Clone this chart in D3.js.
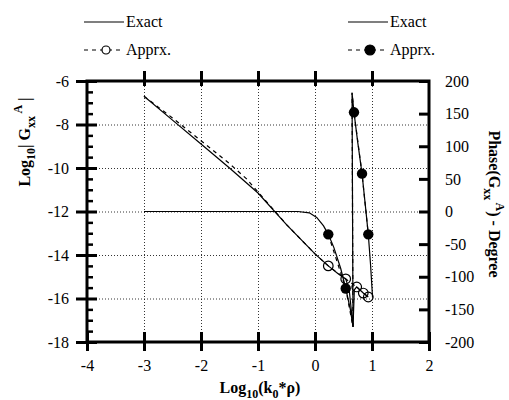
<!DOCTYPE html>
<html>
<head>
<meta charset="utf-8">
<script src="https://cdn.jsdelivr.net/npm/d3@7"></script>
<style>
  body { margin: 0; background: #fff; }
  svg { display: block; font-family: "Liberation Serif", "DejaVu Serif", serif; }
  .frame { fill: none; stroke: #000; stroke-width: 3; }
  .grid line { stroke: #000; stroke-width: 0.8; stroke-dasharray: 1,2; }
  .ax line { stroke: #000; stroke-width: 3; }
  .minor line { stroke: #000; stroke-width: 2.5; }
  .ax text { font-size: 16px; fill: #000; font-family: "Liberation Serif", serif; }
  .curve { fill: none; stroke: #000; stroke-width: 1.2; }
  .dash { fill: none; stroke: #000; stroke-width: 1.2; stroke-dasharray: 4,4; }
  .lbl { font-size: 16px; font-weight: bold; font-family: "Liberation Serif", serif; }
  .leg { font-size: 16px; font-family: "Liberation Serif", serif; }
</style>
</head>
<body>
<svg id="chart"></svg>
<script>
// x ticks and y ticks
const xTicks = [-4, -3, -2, -1, 0, 1, 2];
const magTicks = [-18, -16, -14, -12, -10, -8, -6];
const phaseTicks = [-200, -150, -100, -50, 0, 50, 100, 150, 200];

// magnitude, exact
const magExactX = [-3, -2.5, -2, -1.5, -1, -0.5, 0, 0.233, 0.4, 0.539, 0.6, 0.667, 0.69, 0.732, 0.847, 0.935];
const magExactY = [-6.7, -7.8, -8.9, -10.0, -11.15, -12.6, -13.95, -14.5, -14.85, -15.1, -15.6, -17.3, -15.6, -15.47, -15.75, -15.93];
// magnitude, approx (dashed + open circles)
const magApproxX = [-3, -2.5, -2, -1.5, -1.2, -1, -0.5, 0, 0.233, 0.539, 0.732, 0.847, 0.935];
const magApproxY = [-6.7, -7.7, -8.75, -9.8, -10.5, -11.1, -12.6, -13.95, -14.5, -15.1, -15.47, -15.75, -15.93];
const magMarkX = [0.233, 0.539, 0.732, 0.847, 0.935];
const magMarkY = [-14.5, -15.1, -15.47, -15.75, -15.93];

// phase, exact (includes the -180 / +180 wrap)
const phExactX = [-3, -1, -0.3, -0.1, 0.03, 0.15, 0.233, 0.33, 0.45, 0.539, 0.62, 0.667, 0.65, 0.684, 0.75, 0.825, 0.88, 0.935, 0.975, 1.01];
const phExactY = [0, 0, 0, -2, -9, -22, -35, -55, -87, -118, -150, -177, 182, 152, 106, 58, 12, -35, -82, -132];
// phase, approx (dashed + filled dots)
const phApproxX = [0.233, 0.539, 0.667, 0.65, 0.684, 0.825, 0.935];
const phApproxY = [-35, -118, -177, 182, 152, 58, -35];
const phMarkX = [0.233, 0.539, 0.684, 0.825, 0.935];
const phMarkY = [-35, -118, 152, 58, -35];

const width = 509, height = 400;
const svg = d3.select("#chart").attr("width", width).attr("height", height);

const L = 87, R = 429, T = 81, B = 342;
const x = d3.scaleLinear().domain([-4, 2]).range([L, R]);
const yMag = d3.scaleLinear().domain([-18, -6]).range([B, T]);
const yPh = d3.scaleLinear().domain([-200, 200]).range([B, T]);
const fmt = d => String(d);

// grid
svg.append("g").attr("class", "grid")
    .attr("transform", `translate(0,${B})`)
    .call(d3.axisBottom(x).tickValues([-3, -2, -1, 0, 1]).tickSize(-(B - T)).tickFormat(""))
    .call(g => g.select(".domain").remove());
svg.append("g").attr("class", "grid")
    .attr("transform", `translate(${L},0)`)
    .call(d3.axisLeft(yMag).tickValues([-16, -14, -12, -10, -8]).tickSize(-(R - L)).tickFormat(""))
    .call(g => g.select(".domain").remove());

// curves
const line = d3.line().x(d => x(d[0])).y(d => d[1]);
const pts = (xs, ys, sc) => xs.map((v, i) => [v, sc(ys[i])]);

svg.append("path").attr("class", "curve").attr("d", line(pts(magExactX, magExactY, yMag)));
svg.append("path").attr("class", "dash").attr("d", line(pts(magApproxX, magApproxY, yMag)));
svg.append("path").attr("class", "curve").attr("d", line(pts(phExactX, phExactY, yPh)));
svg.append("path").attr("class", "dash").attr("d", line(pts(phApproxX, phApproxY, yPh)));

svg.selectAll(".openpt").data(pts(magMarkX, magMarkY, yMag)).join("circle")
    .attr("class", "openpt")
    .attr("cx", d => x(d[0])).attr("cy", d => d[1]).attr("r", 4.8)
    .attr("fill", "none").attr("stroke", "#000").attr("stroke-width", 1.2);
svg.selectAll(".fillpt").data(pts(phMarkX, phMarkY, yPh)).join("circle")
    .attr("class", "fillpt")
    .attr("cx", d => x(d[0])).attr("cy", d => d[1]).attr("r", 5.2)
    .attr("fill", "#000");

// axes
svg.append("g").attr("class", "minor")
    .attr("transform", `translate(${L},0)`)
    .call(d3.axisLeft(yMag).tickValues(d3.range(-17.5, -6, 0.5).filter(v => v % 2 !== 0)).tickSize(-6).tickFormat(""))
    .call(g => g.select(".domain").remove());

svg.append("g").attr("class", "ax")
    .attr("transform", `translate(${L},0)`)
    .call(d3.axisLeft(yMag).tickValues(magTicks).tickSize(11).tickPadding(7).tickFormat(fmt))
    .call(g => g.select(".domain").remove())
    .call(g => g.selectAll(".tick line").attr("x1", 10));

svg.append("g").attr("class", "ax")
    .attr("transform", `translate(${R},0)`)
    .call(d3.axisRight(yPh).tickValues(phaseTicks).tickSize(-10).tickPadding(16).tickFormat(fmt))
    .call(g => g.select(".domain").remove());

svg.append("g").attr("class", "ax")
    .attr("transform", `translate(0,${B})`)
    .call(d3.axisBottom(x).tickValues(xTicks).tickSize(9).tickPadding(9).tickFormat(fmt))
    .call(g => g.select(".domain").remove())
    .call(g => g.selectAll(".tick line").attr("y1", -10));

svg.append("g").attr("class", "ax")
    .attr("transform", `translate(0,${T})`)
    .call(d3.axisTop(x).tickValues(xTicks.slice(1, -1)).tickSize(10).tickFormat(""))
    .call(g => g.select(".domain").remove())
    .call(g => g.selectAll(".tick line").attr("y1", 5));

svg.selectAll(".ax").attr("font-family", null).attr("font-size", null);

svg.append("rect").attr("class", "frame")
    .attr("x", L).attr("y", T).attr("width", R - L).attr("height", B - T);

// axis titles
const leftT = svg.append("text").attr("class", "lbl")
    .attr("transform", "translate(30,142) rotate(-90)").attr("text-anchor", "middle");
leftT.append("tspan").text("Log");
leftT.append("tspan").attr("dy", 5).attr("font-size", 12).text("10");
leftT.append("tspan").attr("dy", -5).text("| G");
leftT.append("tspan").attr("dy", 5).attr("font-size", 12).text("xx");
leftT.append("tspan").attr("dy", -13).attr("font-size", 12).text(" A");
leftT.append("tspan").attr("dy", 8).text(" |");

const rightT = svg.append("text").attr("class", "lbl")
    .attr("transform", "translate(489,204) rotate(90)").attr("text-anchor", "middle");
rightT.append("tspan").text("Phase(G");
rightT.append("tspan").attr("dy", 5).attr("font-size", 12).text("xx");
rightT.append("tspan").attr("dy", -12).attr("font-size", 12).text(" A");
rightT.append("tspan").attr("dy", 7).text(") - Degree");

const botT = svg.append("text").attr("class", "lbl")
    .attr("x", 260).attr("y", 393).attr("text-anchor", "middle");
botT.append("tspan").text("Log");
botT.append("tspan").attr("dy", 5).attr("font-size", 12).text("10");
botT.append("tspan").attr("dy", -5).text("(k");
botT.append("tspan").attr("dy", 5).attr("font-size", 12).text("0");
botT.append("tspan").attr("dy", -5).text("*ρ)");

// legends
const legends = [
    { x0: 84, y: 22, text: "Exact", kind: "solid" },
    { x0: 84, y: 50, text: "Apprx.", kind: "open" },
    { x0: 348, y: 22, text: "Exact", kind: "solid" },
    { x0: 348, y: 50, text: "Apprx.", kind: "filled" }
];
legends.forEach(d => {
    const g = svg.append("g");
    if (d.kind === "solid") {
        g.append("line").attr("x1", d.x0).attr("x2", d.x0 + 40).attr("y1", d.y).attr("y2", d.y)
            .attr("stroke", "#000").attr("stroke-width", 1.2);
    } else {
        g.append("line").attr("x1", d.x0).attr("x2", d.x0 + 40).attr("y1", d.y).attr("y2", d.y)
            .attr("stroke", "#000").attr("stroke-width", 1.2).attr("stroke-dasharray", "4,4");
        g.append("circle").attr("cx", d.x0 + 22).attr("cy", d.y).attr("r", d.kind === "open" ? 4 : 5)
            .attr("fill", d.kind === "open" ? "#fff" : "#000").attr("stroke", "#000").attr("stroke-width", 1.2);
    }
    g.append("text").attr("class", "leg").attr("x", d.x0 + 42).attr("y", d.y + 5).text(d.text);
});
</script>
</body>
</html>
